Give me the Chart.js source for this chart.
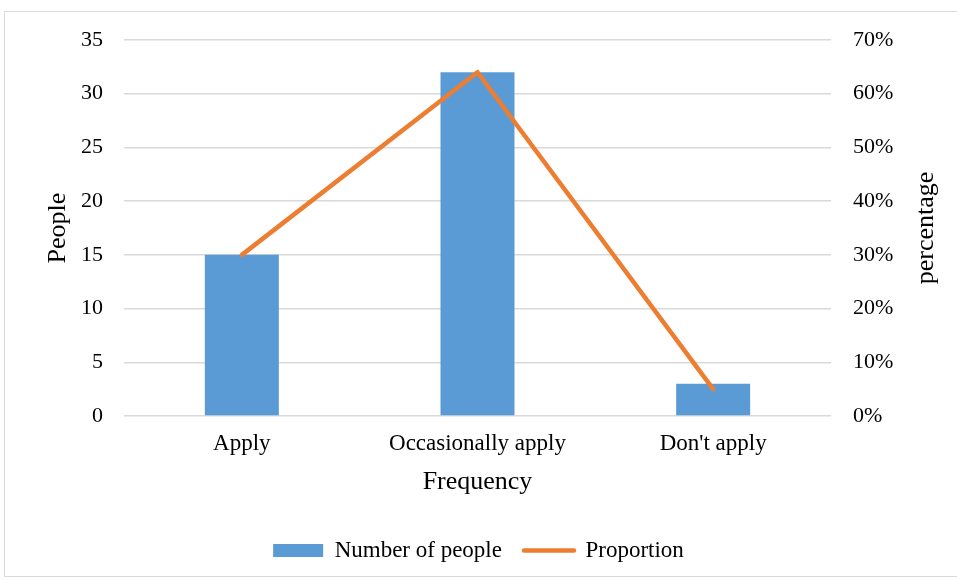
<!DOCTYPE html>
<html><head><meta charset="utf-8">
<script src="https://cdn.jsdelivr.net/npm/chart.js@4/dist/chart.umd.min.js"></script>
<style>
html,body{margin:0;padding:0;background:#fff;}
#wrap{position:relative;width:957px;height:581px;overflow:hidden;}
#frame{position:absolute;left:4px;top:11px;width:980px;height:566px;border:1px solid #d9d9d9;box-sizing:border-box;}
canvas{position:absolute;left:0;top:0;}
</style></head>
<body><div id="wrap"><div id="frame"></div><canvas id="c" width="957" height="581"></canvas></div>
<script>
const categories = ["Apply", "Occasionally apply", "Don't apply"];
const people = [15, 32, 3];
const proportion = [30, 64, 5];
const leftTicks = [0, 5, 10, 15, 20, 25, 30, 35];
const rightTicks = ["0%", "10%", "20%", "30%", "40%", "50%", "60%", "70%"];
const rightTitle = "percentage";

const serif = "'Liberation Serif', 'Times New Roman', serif";
Chart.defaults.font.family = serif;
Chart.defaults.color = '#000';

const rightTitlePlugin = {
  id: 'rightTitle',
  afterDraw(chart) {
    const ctx = chart.ctx, ca = chart.chartArea;
    ctx.save();
    ctx.font = "26px " + serif;
    ctx.fillStyle = '#000';
    ctx.textAlign = 'center';
    ctx.textBaseline = 'middle';
    ctx.translate(926, (ca.top + ca.bottom) / 2);
    ctx.rotate(-Math.PI / 2);
    ctx.fillText(rightTitle, 0, 0);
    ctx.restore();
  }
};

new Chart(document.getElementById('c'), {
  data: {
    labels: categories,
    datasets: [
      { type: 'bar', label: 'Number of people', data: people, backgroundColor: '#5B9BD5',
        yAxisID: 'y', order: 1, categoryPercentage: 1, barPercentage: 0.314 },
      { type: 'line', label: 'Proportion', data: proportion, borderColor: '#ED7D31', backgroundColor: '#ED7D31',
        borderWidth: 4.5, pointRadius: 0, borderCapStyle: 'round', borderJoinStyle: 'round', tension: 0,
        yAxisID: 'y1', order: 0 }
    ]
  },
  plugins: [rightTitlePlugin],
  options: {
    responsive: false, animation: false,
    layout: { padding: { top: 40, bottom: 9, left: 0, right: 0 } },
    plugins: {
      tooltip: { enabled: false },
      legend: {
        position: 'bottom',
        labels: {
          usePointStyle: true, boxHeight: 13, pointStyleWidth: 50, padding: 22,
          font: { size: 23 }, color: '#000',
          generateLabels: (chart) => chart.data.datasets.map((ds, i) => ({
            text: ds.label, datasetIndex: i,
            fillStyle: ds.type === 'bar' ? '#5B9BD5' : '#ED7D31',
            strokeStyle: ds.type === 'bar' ? '#5B9BD5' : '#ED7D31',
            lineWidth: ds.type === 'bar' ? 0 : 4.5,
            lineCap: 'round',
            pointStyle: ds.type === 'bar' ? 'rect' : 'line',
            fontColor: '#000', hidden: false
          }))
        }
      }
    },
    scales: {
      x: {
        grid: { display: false, drawTicks: false }, border: { display: false },
        ticks: { font: { size: 23 }, padding: 14, color: '#000' },
        title: { display: true, text: 'Frequency', font: { size: 26 }, color: '#000', padding: { top: 0, bottom: 19 } },
        afterFit: (s) => { s.height = 101; }
      },
      y: {
        position: 'left', min: 0, max: 35,
        afterBuildTicks: (s) => { s.ticks = leftTicks.map(v => ({ value: v })); },
        grid: { color: '#d9d9d9', lineWidth: 1.5, drawTicks: false }, border: { display: false },
        ticks: { font: { size: 22 }, padding: 21, color: '#000' },
        title: { display: true, text: 'People', font: { size: 26 }, color: '#000', padding: { top: 43, bottom: 0 } },
        afterFit: (s) => { s.width = 124; }
      },
      y1: {
        position: 'right', min: 0, max: 70,
        afterBuildTicks: (s) => { s.ticks = rightTicks.map(t => ({ value: parseFloat(t) })); },
        grid: { display: false, drawTicks: false }, border: { display: false },
        ticks: { font: { size: 22 }, padding: 22, color: '#000', callback: (v) => v + '%' },
        title: { display: false },
        afterFit: (s) => { s.width = 126; }
      }
    }
  }
});
</script></body></html>
